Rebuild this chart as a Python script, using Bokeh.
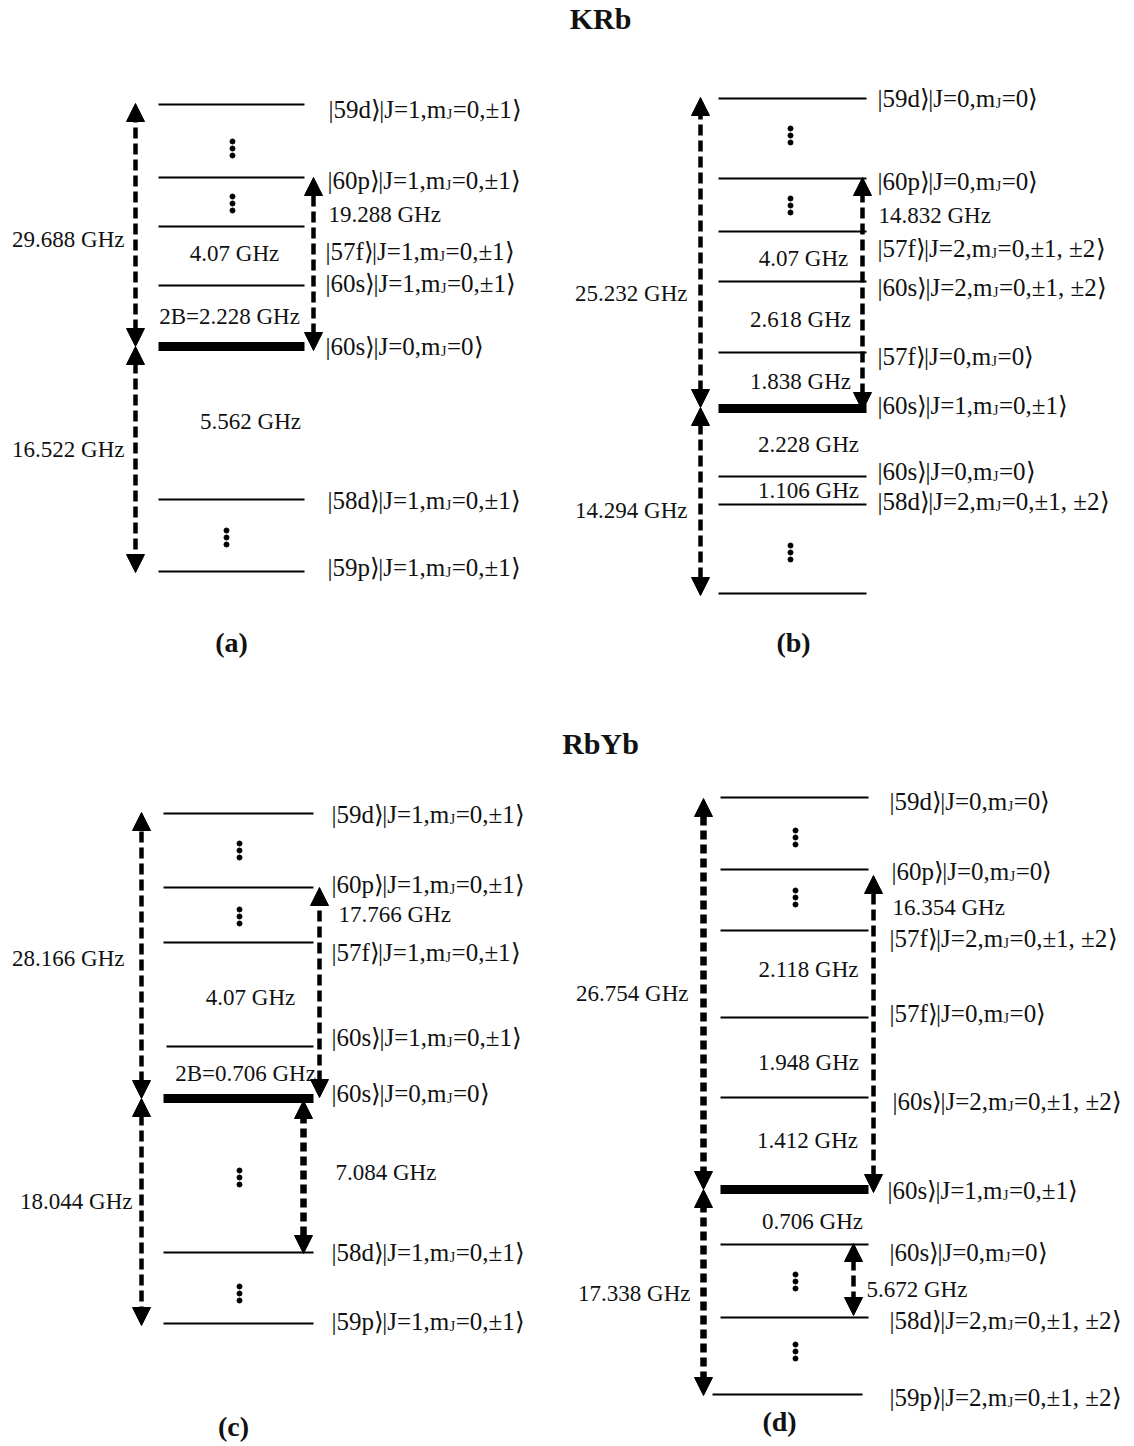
from bokeh.plotting import figure
from bokeh.models import Range1d, Arrow, NormalHead, ColumnDataSource
from bokeh.core.properties import value
from bokeh.embed import file_html
from bokeh.resources import INLINE

FONT = "Liberation Serif"

# ---------------- titles / panel tags ----------------
TITLES = ["KRb", "RbYb"]
TITLE_X = [600, 600]
TITLE_Y = [18, 743]
TAGS = ["(a)", "(b)", "(c)", "(d)"]
TAG_X = [231, 793, 233, 779]
TAG_Y = [642, 642, 1426, 1421]

# ---------------- panel (a): KRb, ground |60s>|J=0> ----------------
A_LVL_Y = [104, 177, 226, 285, 346, 499, 571]
A_LVL_THICK = [0, 0, 0, 0, 1, 0, 0]
A_LVL_X0 = [158] * 7
A_LVL_X1 = [304] * 7
A_KET_STATE = ["59d", "60p", "57f", "60s", "60s", "58d", "59p"]
A_KET_J = ["1", "1", "1", "1", "0", "1", "1"]
A_KET_M = ["0,±1", "0,±1", "0,±1", "0,±1", "0", "0,±1", "0,±1"]
A_KET_X = [328, 327, 325, 325, 325, 327, 327]
A_KET_Y = [109, 180, 251, 283, 346, 500, 567]
A_GAP_TEXT = ["4.07 GHz", "2B=2.228 GHz", "5.562 GHz"]
A_GAP_X = [234, 229, 250]
A_GAP_Y = [253, 316, 421]
A_SIDE_TEXT = ["29.688 GHz", "16.522 GHz"]
A_SIDE_X = [124, 124]
A_SIDE_Y = [239, 449]
A_NOTE_TEXT = ["19.288 GHz"]
A_NOTE_X = [328]
A_NOTE_Y = [214]
A_ARR_X = [135, 135, 313]
A_ARR_Y0 = [346, 346, 350]
A_ARR_Y1 = [103, 572, 177]
A_ARR_HEAVY = [0, 0, 0]
A_DOT_X = [232, 232, 226]
A_DOT_Y = [148, 203, 537]

# ---------------- panel (b): KRb, ground |60s>|J=1> ----------------
B_LVL_Y = [98, 178, 231, 281, 352, 408, 476, 504, 593]
B_LVL_THICK = [0, 0, 0, 0, 0, 1, 0, 0, 0]
B_LVL_X0 = [718] * 9
B_LVL_X1 = [866] * 9
B_KET_STATE = ["59d", "60p", "57f", "60s", "57f", "60s", "60s", "58d"]
B_KET_J = ["0", "0", "2", "2", "0", "1", "0", "2"]
B_KET_M = ["0", "0", "0,±1, ±2", "0,±1, ±2", "0", "0,±1", "0", "0,±1, ±2"]
B_KET_X = [877] * 8
B_KET_Y = [98, 181, 248, 287, 356, 405, 471, 501]
B_GAP_TEXT = ["4.07 GHz", "2.618 GHz", "1.838 GHz", "2.228 GHz", "1.106 GHz"]
B_GAP_X = [803, 800, 800, 808, 808]
B_GAP_Y = [258, 319, 381, 444, 490]
B_SIDE_TEXT = ["25.232 GHz", "14.294 GHz"]
B_SIDE_X = [687, 687]
B_SIDE_Y = [293, 510]
B_NOTE_TEXT = ["14.832 GHz"]
B_NOTE_X = [878]
B_NOTE_Y = [215]
B_ARR_X = [700, 700, 862]
B_ARR_Y0 = [407, 407, 410]
B_ARR_Y1 = [97, 595, 177]
B_ARR_HEAVY = [0, 0, 0]
B_DOT_X = [790, 790, 790]
B_DOT_Y = [135, 205, 552]

# ---------------- panel (c): RbYb, ground |60s>|J=0> ----------------
C_LVL_Y = [813, 887, 942, 1046, 1098, 1252, 1323]
C_LVL_THICK = [0, 0, 0, 0, 1, 0, 0]
C_LVL_X0 = [163, 163, 163, 166, 163, 163, 163]
C_LVL_X1 = [313] * 7
C_KET_STATE = ["59d", "60p", "57f", "60s", "60s", "58d", "59p"]
C_KET_J = ["1", "1", "1", "1", "0", "1", "1"]
C_KET_M = ["0,±1", "0,±1", "0,±1", "0,±1", "0", "0,±1", "0,±1"]
C_KET_X = [331] * 7
C_KET_Y = [814, 884, 952, 1037, 1093, 1252, 1321]
C_GAP_TEXT = ["4.07 GHz", "2B=0.706 GHz"]
C_GAP_X = [250, 245]
C_GAP_Y = [997, 1073]
C_SIDE_TEXT = ["28.166 GHz", "18.044 GHz"]
C_SIDE_X = [124, 132]
C_SIDE_Y = [958, 1201]
C_NOTE_TEXT = ["17.766 GHz", "7.084 GHz"]
C_NOTE_X = [338, 335]
C_NOTE_Y = [914, 1172]
C_ARR_X = [141, 141, 319, 303]
C_ARR_Y0 = [1098, 1098, 1097, 1100]
C_ARR_Y1 = [812, 1325, 887, 1253]
C_ARR_HEAVY = [0, 0, 0, 1]
C_DOT_X = [239, 239, 239, 239]
C_DOT_Y = [850, 916, 1177, 1293]

# ---------------- panel (d): RbYb, ground |60s>|J=1> ----------------
D_LVL_Y = [797, 869, 930, 1017, 1097, 1189, 1244, 1317, 1394]
D_LVL_THICK = [0, 0, 0, 0, 0, 1, 0, 0, 0]
D_LVL_X0 = [720] * 8 + [712]
D_LVL_X1 = [868] * 8 + [862]
D_KET_STATE = ["59d", "60p", "57f", "57f", "60s", "60s", "60s", "58d", "59p"]
D_KET_J = ["0", "0", "2", "0", "2", "1", "0", "2", "2"]
D_KET_M = ["0", "0", "0,±1, ±2", "0", "0,±1, ±2", "0,±1", "0", "0,±1, ±2", "0,±1, ±2"]
D_KET_X = [889, 891, 889, 889, 892, 887, 889, 889, 889]
D_KET_Y = [801, 871, 938, 1013, 1101, 1190, 1252, 1320, 1397]
D_GAP_TEXT = ["2.118 GHz", "1.948 GHz", "1.412 GHz", "0.706 GHz"]
D_GAP_X = [808, 808, 807, 812]
D_GAP_Y = [969, 1062, 1140, 1221]
D_SIDE_TEXT = ["26.754 GHz", "17.338 GHz"]
D_SIDE_X = [688, 690]
D_SIDE_Y = [993, 1293]
D_NOTE_TEXT = ["16.354 GHz", "5.672 GHz"]
D_NOTE_X = [892, 866]
D_NOTE_Y = [907, 1289]
D_ARR_X = [703, 703, 873, 853]
D_ARR_Y0 = [1189, 1189, 1192, 1243]
D_ARR_Y1 = [798, 1395, 875, 1315]
D_ARR_HEAVY = [1, 1, 0, 0]
D_DOT_X = [795, 795, 795, 795]
D_DOT_Y = [837, 897, 1281, 1351]

PANELS = [
    dict(lvl_y=A_LVL_Y, thick=A_LVL_THICK, x0=A_LVL_X0, x1=A_LVL_X1,
         ks=A_KET_STATE, kj=A_KET_J, km=A_KET_M, kx=A_KET_X, ky=A_KET_Y,
         gt=A_GAP_TEXT, gx=A_GAP_X, gy=A_GAP_Y,
         st=A_SIDE_TEXT, sx=A_SIDE_X, sy=A_SIDE_Y,
         nt=A_NOTE_TEXT, nx=A_NOTE_X, ny=A_NOTE_Y,
         ax=A_ARR_X, ay0=A_ARR_Y0, ay1=A_ARR_Y1, ah=A_ARR_HEAVY,
         dx=A_DOT_X, dy=A_DOT_Y),
    dict(lvl_y=B_LVL_Y, thick=B_LVL_THICK, x0=B_LVL_X0, x1=B_LVL_X1,
         ks=B_KET_STATE, kj=B_KET_J, km=B_KET_M, kx=B_KET_X, ky=B_KET_Y,
         gt=B_GAP_TEXT, gx=B_GAP_X, gy=B_GAP_Y,
         st=B_SIDE_TEXT, sx=B_SIDE_X, sy=B_SIDE_Y,
         nt=B_NOTE_TEXT, nx=B_NOTE_X, ny=B_NOTE_Y,
         ax=B_ARR_X, ay0=B_ARR_Y0, ay1=B_ARR_Y1, ah=B_ARR_HEAVY,
         dx=B_DOT_X, dy=B_DOT_Y),
    dict(lvl_y=C_LVL_Y, thick=C_LVL_THICK, x0=C_LVL_X0, x1=C_LVL_X1,
         ks=C_KET_STATE, kj=C_KET_J, km=C_KET_M, kx=C_KET_X, ky=C_KET_Y,
         gt=C_GAP_TEXT, gx=C_GAP_X, gy=C_GAP_Y,
         st=C_SIDE_TEXT, sx=C_SIDE_X, sy=C_SIDE_Y,
         nt=C_NOTE_TEXT, nx=C_NOTE_X, ny=C_NOTE_Y,
         ax=C_ARR_X, ay0=C_ARR_Y0, ay1=C_ARR_Y1, ah=C_ARR_HEAVY,
         dx=C_DOT_X, dy=C_DOT_Y),
    dict(lvl_y=D_LVL_Y, thick=D_LVL_THICK, x0=D_LVL_X0, x1=D_LVL_X1,
         ks=D_KET_STATE, kj=D_KET_J, km=D_KET_M, kx=D_KET_X, ky=D_KET_Y,
         gt=D_GAP_TEXT, gx=D_GAP_X, gy=D_GAP_Y,
         st=D_SIDE_TEXT, sx=D_SIDE_X, sy=D_SIDE_Y,
         nt=D_NOTE_TEXT, nx=D_NOTE_X, ny=D_NOTE_Y,
         ax=D_ARR_X, ay0=D_ARR_Y0, ay1=D_ARR_Y1, ah=D_ARR_HEAVY,
         dx=D_DOT_X, dy=D_DOT_Y),
]

# ---------------- styling ----------------
KET_SIZE = 25
SUB_SIZE = 14
GAP_SIZE = 23
SIDE_SIZE = 23
# Times-metric advance widths (1/1000 em) for laying out the ket pieces
TW = {"|": 200, "d": 500, "p": 500, "s": 389, "f": 333, "J": 389, "=": 564,
      ",": 250, "m": 778, "±": 564, " ": 250}
for _c in "0123456789":
    TW[_c] = 500
ANG_W = 330


def tw(s, size):
    return sum(TW.get(c, 500) for c in s) * size / 1000.0


W, H = 1134, 1446
p = figure(width=W, height=H, x_range=Range1d(0, W), y_range=Range1d(H, 0),
           output_backend="svg", toolbar_location=None, x_axis_type=None, y_axis_type=None,
           min_border=0, min_border_left=0, min_border_right=0, min_border_top=0,
           min_border_bottom=0, outline_line_color=None)
p.grid.visible = False
p.background_fill_color = "white"
p.border_fill_color = "white"

main_x, main_y, main_t = [], [], []
sub_x, sub_y, sub_t = [], [], []
gap_x, gap_y, gap_t = [], [], []
side_x, side_y, side_t = [], [], []
note_x, note_y, note_t = [], [], []
thin = dict(x0=[], x1=[], y=[])
thick = dict(x0=[], x1=[], y=[])
dots_x, dots_y = [], []
arr_light = dict(x0=[], y0=[], x1=[], y1=[])
arr_heavy = dict(x0=[], y0=[], x1=[], y1=[])

for P in PANELS:
    for y, t, a, b in zip(P["lvl_y"], P["thick"], P["x0"], P["x1"]):
        d = thick if t else thin
        d["x0"].append(a)
        d["x1"].append(b)
        d["y"].append(y)
    for st, j, m, x, y in zip(P["ks"], P["kj"], P["km"], P["kx"], P["ky"]):
        pieces = ["|" + st, "⟩", "|J=" + j + ",m"]
        cx = x
        for pc in pieces:
            main_x.append(cx); main_y.append(y); main_t.append(pc)
            cx += ANG_W * KET_SIZE / 1000.0 if pc == "⟩" else tw(pc, KET_SIZE)
        sub_x.append(cx + 0.5); sub_y.append(y + 5); sub_t.append("J")
        cx += tw("J", SUB_SIZE) + 1.0
        rest = "=" + m
        main_x.append(cx); main_y.append(y); main_t.append(rest)
        cx += tw(rest, KET_SIZE)
        main_x.append(cx); main_y.append(y); main_t.append("⟩")
    gap_x += P["gx"]; gap_y += P["gy"]; gap_t += P["gt"]
    side_x += P["sx"]; side_y += P["sy"]; side_t += P["st"]
    note_x += P["nx"]; note_y += P["ny"]; note_t += P["nt"]
    for x, y in zip(P["dx"], P["dy"]):
        for k in (-7, 0, 7):
            dots_x.append(x); dots_y.append(y + k)
    for x, y0, y1, h in zip(P["ax"], P["ay0"], P["ay1"], P["ah"]):
        d = arr_heavy if h else arr_light
        d["x0"].append(x); d["y0"].append(y0); d["x1"].append(x); d["y1"].append(y1)

# energy levels
p.segment(x0="x0", x1="x1", y0="y", y1="y", source=ColumnDataSource(thin),
          line_color="black", line_width=2)
p.segment(x0="x0", x1="x1", y0="y", y1="y", source=ColumnDataSource(thick),
          line_color="black", line_width=9)

# vertical ellipses
p.scatter(dots_x, dots_y, size=5, marker="circle", color="black")

# arrows
for d, lw, dash in ((arr_light, 4.5, "11 5"), (arr_heavy, 6.5, "9 5")):
    src = ColumnDataSource(d)
    p.add_layout(Arrow(x_start="x0", y_start="y0", x_end="x1", y_end="y1", source=src,
                       line_color="black", line_width=lw, line_dash=dash,
                       start=NormalHead(size=18, fill_color="black", line_color="black", line_width=1),
                       end=NormalHead(size=18, fill_color="black", line_color="black", line_width=1)))

font = value(FONT)
common = dict(text_font=font, text_baseline="middle", text_color="#111111")
p.text(main_x, main_y, text=main_t, text_font_size=f"{KET_SIZE}px", text_align="left", **common)
p.text(sub_x, sub_y, text=sub_t, text_font_size=f"{SUB_SIZE}px", text_align="left", **common)
p.text(gap_x, gap_y, text=gap_t, text_font_size=f"{GAP_SIZE}px", text_align="center", **common)
p.text(side_x, side_y, text=side_t, text_font_size=f"{SIDE_SIZE}px", text_align="right", **common)
p.text(note_x, note_y, text=note_t, text_font_size=f"{GAP_SIZE}px", text_align="left", **common)
p.text(TITLE_X, TITLE_Y, text=TITLES, text_font_size="30px", text_font_style="bold",
       text_align="center", **common)
p.text(TAG_X, TAG_Y, text=TAGS, text_font_size="28px", text_font_style="bold",
       text_align="center", **common)

open("out.html", "w").write(file_html(p, INLINE))
